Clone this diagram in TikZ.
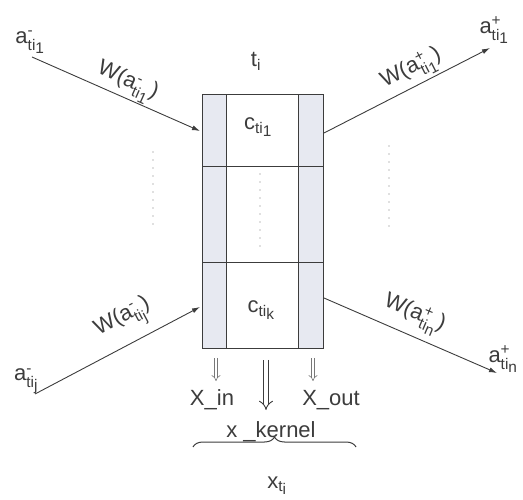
\documentclass[tikz,border=0pt]{standalone}
\usepackage{fontspec}
\setmainfont{Liberation Sans}
\usepackage{amsmath}
\usetikzlibrary{arrows.meta,decorations.pathreplacing}
\definecolor{linegray}{RGB}{60,60,60}
\definecolor{stripblue}{RGB}{231,233,241}
\definecolor{softgray}{RGB}{120,120,120}
\newcommand{\idx}[2]{\text{#1\raisebox{-0.35ex}{#2}}}
\newcommand{\act}[2]{a$^{\text{#1}}_{\idx{ti}{#2}}$}
\tikzset{
  lab/.style={font=\fontsize{22}{26}\selectfont, inner sep=0.75pt, color=linegray},
  link/.style={color=linegray, line width=0.9pt, -{Latex[length=8pt,width=5pt]}},
  strip/.style={fill=stripblue, draw=linegray, line width=0.9pt},
  dotcol/.style={color=softgray, line width=1.3pt, line cap=round, dash pattern=on 0pt off 8pt},
}
\begin{document}
\begin{tikzpicture}[x=1pt,y=1pt,yscale=-1,xscale=1]
\useasboundingbox (0,0) rectangle (523,500);
%Shape: Rectangle
\draw [strip] (202,94) rectangle (226,348);
%Shape: Rectangle
\draw [strip] (298,94) rectangle (323,348);
%Shape: Rectangle
\draw [color=linegray, line width=0.9pt] (202,94) rectangle (323,348);
%Straight Lines
\draw [color=linegray, line width=0.9pt] (202,166) -- (323,166);
%Straight Lines
\draw [color=linegray, line width=0.9pt] (202,262) -- (323,262);
%Dotted Lines
\draw [dotcol] (260,174) -- (260,252);
\draw [dotcol] (153,152) -- (153,225);
\draw [dotcol] (389,146) -- (389,227);
%Arrow ends
\coordinate (s1) at (32,57);
\coordinate (in1) at (200,131);
\coordinate (sj) at (35,394);
\coordinate (inj) at (200,307);
\coordinate (out1) at (324,133);
\coordinate (e1) at (490,48);
\coordinate (outn) at (324,298);
\coordinate (en) at (497,373);
%Straight Lines
\draw [link] (s1) -- (in1);
\draw [link] (sj) -- (inj);
\draw [link] (out1) -- (e1);
\draw [link] (outn) -- (en);
\draw (127,83) node [lab, rotate=-24] (w1) {W(\act{-}{1})};
\draw (124,320) node [lab, rotate=28] (wj) {W(\act{-}{j})};
\draw (412,70) node [lab, rotate=27] (wp1) {W(\act{+}{1})};
\draw (414,315) node [lab, rotate=-23] (wpn) {W(\act{+}{n})};
\draw (30,42) node [lab] (aneg1) {\act{-}{1}};
\draw (26,381) node [lab] (anegj) {\act{-}{j}};
\draw (494,30) node [lab] (apos1) {\act{+}{1}};
\draw (503,359) node [lab] (aposn) {\act{+}{n}};
\draw (256,61) node [lab] (ti) {t$_{\text{i}}$};
\draw (258,127) node [lab] (cti1) {c$_{\idx{ti}{1}}$};
\draw (261,310) node [lab] (ctik) {c$_{\idx{ti}{k}}$};
%Double Arrows
\draw [softgray, line width=0.6pt, double, double distance=2.5pt, -{Implies[length=5pt,width=9pt]}] (216,358) -- (216,381);
\draw [softgray, line width=0.6pt, double, double distance=2.5pt, -{Implies[length=5pt,width=9pt]}] (313,358) -- (313,381);
\draw [linegray, line width=0.9pt, double, double distance=4pt, -{Implies[length=12pt,width=17pt]}] (266,360) -- (266,410);
\draw (212,400) node [lab] (xin) {X\_in};
\draw (331,400) node [lab] (xout) {X\_out};
\draw (271,432) node [lab] (xker) {x \_kernel};
%Brace
\draw [color=linegray, line width=1pt, decorate, decoration={brace, amplitude=10pt}] (193,447) -- (356,447);
\draw (277,486) node [lab] (xti) {x$_{\idx{t}{i}}$};
\end{tikzpicture}
\end{document}
